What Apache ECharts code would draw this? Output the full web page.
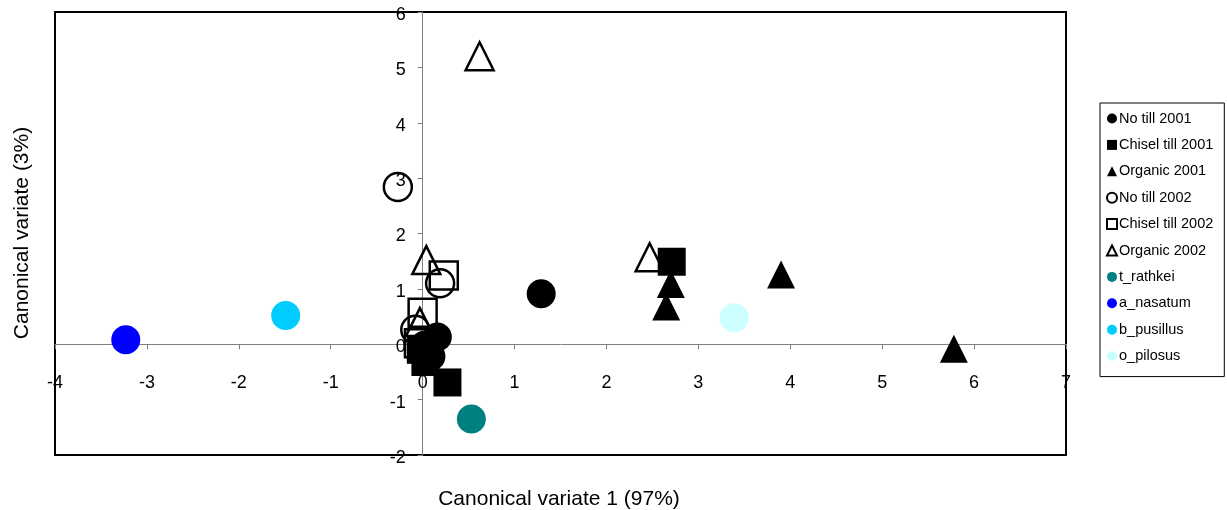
<!DOCTYPE html>
<html>
<head>
<meta charset="utf-8">
<script src="https://cdn.jsdelivr.net/npm/echarts@6/dist/echarts.min.js"></script>
<style>html,body{margin:0;padding:0;background:#fff;}#c{width:1227px;height:510px;}</style>
</head>
<body>
<div id="c"></div>
<script>
// ---- data (canonical variate 1, canonical variate 2) ----
const noTill2001     = [[1.29, 0.91], [0.16, 0.13], [0.09, -0.22], [0.02, -0.02]];
const chiselTill2001 = [[2.71, 1.49], [0.27, -0.69], [-0.02, -0.10], [0.03, -0.32]];
const organic2001    = [[3.90, 1.26], [5.78, -0.08], [2.70, 1.09], [2.65, 0.68]];
const noTill2002     = [[-0.27, 2.84], [0.19, 1.10], [-0.08, 0.26]];
const chiselTill2002 = [[0.23, 1.24], [0.00, 0.57], [-0.04, 0.02]];
const organic2002    = [[0.62, 5.20], [0.04, 1.52], [2.47, 1.57], [-0.03, 0.40]];
const tRathkei  = [[0.53, -1.35]];
const aNasatum  = [[-3.23, 0.08]];
const bPusillus = [[-1.49, 0.52]];
const oPilosus  = [[3.39, 0.48]];

const legendNames = ['No till 2001', 'Chisel till 2001', 'Organic 2001', 'No till 2002',
  'Chisel till 2002', 'Organic 2002', 't_rathkei', 'a_nasatum', 'b_pusillus', 'o_pilosus'];
const xTitle = 'Canonical variate 1 (97%)';
const yTitle = 'Canonical variate (3%)';
const xMin = -4, xMax = 7, yMin = -2, yMax = 6;

const FONT = 'Liberation Sans, Arial, sans-serif';
const SZ = 28;
const G = { left: 55, right: 161, top: 12, bottom: 55 };
const W = 1227, H = 510;
const gw = W - G.left - G.right, gh = H - G.top - G.bottom;
// move the axes so they cross at zero (labels follow the lines)
const yAxisOffset = -gw * (0 - xMin) / (xMax - xMin);
const xAxisOffset = -gh * (0 - yMin) / (yMax - yMin);

function openSeries(name, data, symbol) {
  return { name, type: 'scatter', data, symbol, symbolSize: SZ,
    itemStyle: { color: 'rgba(255,255,255,0)', borderColor: '#000', borderWidth: 2.5, opacity: 1 } };
}
function filledSeries(name, data, symbol, color, size) {
  return { name, type: 'scatter', data, symbol, symbolSize: size || SZ,
    itemStyle: { color, opacity: 1 } };
}

const chart = echarts.init(document.getElementById('c'), null, { renderer: 'canvas' });
chart.setOption({
  animation: false,
  backgroundColor: '#fff',
  textStyle: { fontFamily: FONT },
  grid: Object.assign({ show: true, borderColor: '#000', borderWidth: 2, backgroundColor: 'transparent' }, G),
  xAxis: {
    type: 'value', min: xMin, max: xMax, interval: 1, position: 'bottom', offset: xAxisOffset,
    axisLine: { onZero: false, lineStyle: { color: '#808080', width: 1 } },
    axisTick: { show: true, length: 5, lineStyle: { color: '#808080' } },
    axisLabel: { color: '#000', fontSize: 18, fontFamily: FONT, margin: 30 },
    splitLine: { show: false }
  },
  yAxis: {
    type: 'value', min: yMin, max: yMax, interval: 1, position: 'left', offset: yAxisOffset,
    axisLine: { onZero: false, lineStyle: { color: '#808080', width: 1 } },
    axisTick: { show: true, length: 5, lineStyle: { color: '#808080' } },
    axisLabel: { color: '#000', fontSize: 18, fontFamily: FONT, margin: 17, verticalAlign: 'top', lineHeight: 6 },
    splitLine: { show: false }
  },
  legend: {
    data: legendNames,
    orient: 'vertical', left: 1100, top: 103,
    padding: [8, 11, 13, 6], itemGap: 11.4, itemWidth: 10, itemHeight: 10,
    borderColor: '#000', borderWidth: 1, backgroundColor: '#fff',
    textStyle: { fontSize: 14.5, color: '#000', fontFamily: FONT, padding: [0, 0, 0, -3] },
    selectedMode: false
  },
  graphic: [
    { type: 'text', style: { text: xTitle, x: 559, y: 499, align: 'center', verticalAlign: 'middle', font: '21px ' + FONT, fill: '#000' } },
    { type: 'text', x: 22, y: 233, rotation: Math.PI / 2, style: { text: yTitle, x: 0, y: 0, align: 'center', verticalAlign: 'middle', font: '21px ' + FONT, fill: '#000' } }
  ],
  series: [
    openSeries('No till 2002', noTill2002, 'circle'),
    openSeries('Chisel till 2002', chiselTill2002, 'rect'),
    openSeries('Organic 2002', organic2002, 'triangle'),
    filledSeries('No till 2001', noTill2001, 'circle', '#000', 29),
    filledSeries('Chisel till 2001', chiselTill2001, 'rect', '#000'),
    filledSeries('Organic 2001', organic2001, 'triangle', '#000'),
    filledSeries('t_rathkei', tRathkei, 'circle', '#008080', 29),
    filledSeries('a_nasatum', aNasatum, 'circle', '#0000FF', 29),
    filledSeries('b_pusillus', bPusillus, 'circle', '#00CCFF', 29),
    filledSeries('o_pilosus', oPilosus, 'circle', '#CCFFFF', 29)
  ]
});
</script>
</body>
</html>
